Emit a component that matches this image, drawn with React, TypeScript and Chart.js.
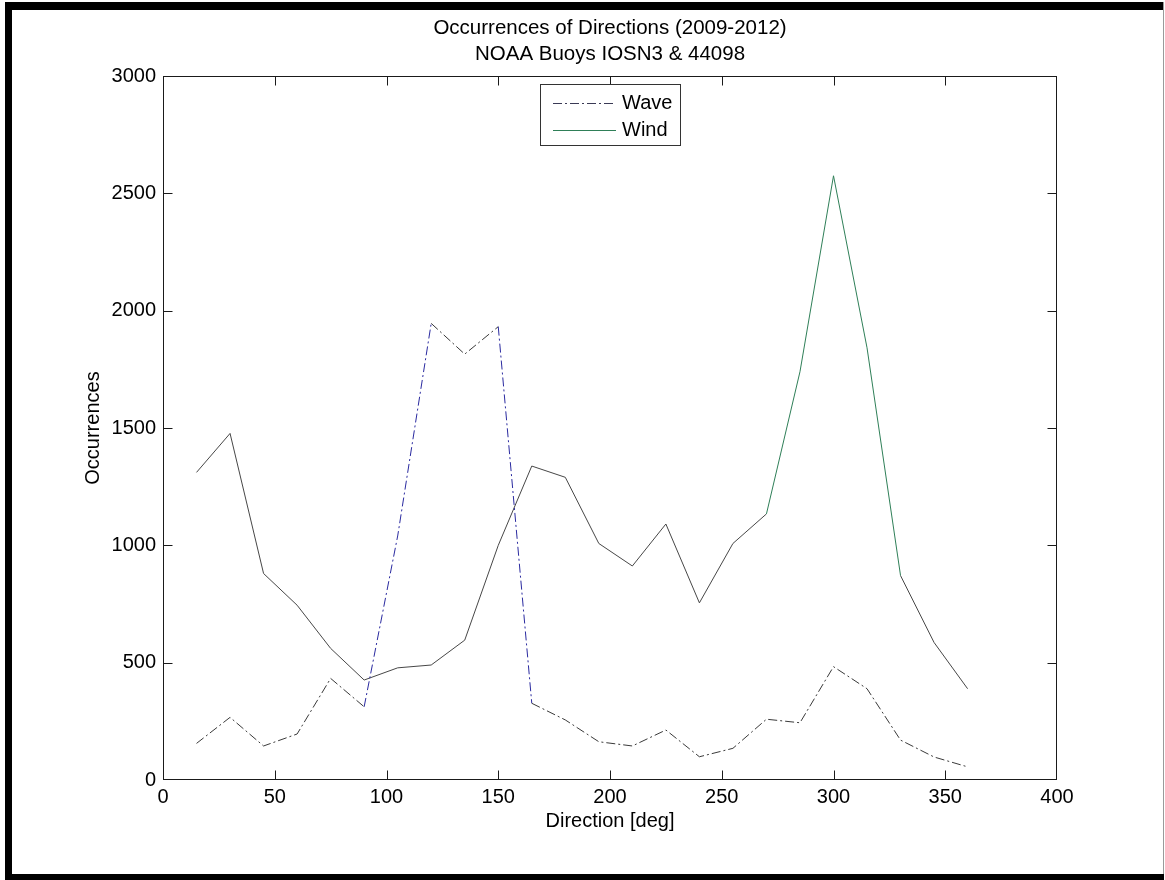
import React, { useEffect, useRef } from "react";
import { Chart, registerables } from "chart.js";

Chart.register(...registerables);

// ---- data ----
const directions = [15, 30, 45, 60, 75, 90, 105, 120, 135, 150, 165, 180, 195, 210, 225, 240, 255, 270, 285, 300, 315, 330, 345, 360];
const waveCounts = [156, 267, 145, 196, 433, 312, 1040, 1946, 1815, 1932, 327, 256, 163, 145, 213, 99, 135, 259, 244, 483, 389, 170, 98, 56];
const windCounts = [1311, 1477, 880, 745, 561, 426, 478, 490, 596, 1000, 1338, 1290, 1008, 912, 1091, 755, 1008, 1134, 1740, 2575, 1842, 871, 586, 389];
const xTickValues = [0, 50, 100, 150, 200, 250, 300, 350, 400];
const yTickValues = [0, 500, 1000, 1500, 2000, 2500, 3000];
const titleLines = ["Occurrences of Directions (2009-2012)", "NOAA Buoys IOSN3 & 44098"];
const seriesNames = ["Wave", "Wind"];
const xAxisLabel = "Direction [deg]";
const yAxisLabel = "Occurrences";

const FONT = "'Liberation Sans', Arial, Helvetica, sans-serif";
const WAVE_BASE = "#3a3a3a";
const WAVE_STEEP = "#2a2aa0";
const WIND_BASE = "#474747";
const WIND_STEEP = "#2f7f58";
const DASHDOT = [9, 3, 2, 3];

const steepColor = (base: string, steep: string) => (ctx: any) =>
  Math.abs(ctx.p1.parsed.y - ctx.p0.parsed.y) > 600 ? steep : base;

const decorPlugin = {
  id: "decor",
  beforeDraw(chart: any) {
    const { ctx, width, height } = chart;
    ctx.save();
    ctx.fillStyle = "#ffffff";
    ctx.fillRect(0, 0, width, height);
    ctx.fillStyle = "#000000";
    ctx.fillRect(5, 2, width - 6, 8);
    ctx.fillRect(5, 2, 7, height - 2);
    ctx.fillRect(5, 874, width - 6, 6);
    ctx.fillStyle = "#9a9a9a";
    ctx.fillRect(1163, 2, 1, 872);
    ctx.restore();
  },
  afterDatasetsDraw(chart: any) {
    const { ctx, chartArea: a, scales } = chart;
    const L = Math.round(a.left) + 0.5;
    const R = Math.round(a.right) - 0.5;
    const T = Math.round(a.top) + 0.5;
    const B = Math.round(a.bottom) - 0.5;
    ctx.save();
    ctx.strokeStyle = "#1a1a1a";
    ctx.lineWidth = 1;
    ctx.setLineDash([]);
    ctx.strokeRect(L, T, R - L, B - T);
    const tl = 9;
    ctx.beginPath();
    xTickValues.slice(1, -1).forEach((v) => {
      const px = Math.round(scales.x.getPixelForValue(v)) + 0.5;
      ctx.moveTo(px, B);
      ctx.lineTo(px, B - tl);
      ctx.moveTo(px, T);
      ctx.lineTo(px, T + tl);
    });
    yTickValues.slice(1, -1).forEach((v) => {
      const py = Math.round(scales.y.getPixelForValue(v)) + 0.5;
      ctx.moveTo(L, py);
      ctx.lineTo(L + tl, py);
      ctx.moveTo(R, py);
      ctx.lineTo(R - tl, py);
    });
    ctx.stroke();

    // legend
    const lx = 540.5, ly = 84.5, lw = 140, lh = 61;
    ctx.fillStyle = "#ffffff";
    ctx.fillRect(lx, ly, lw, lh);
    ctx.strokeStyle = "#333333";
    ctx.strokeRect(lx, ly, lw, lh);
    const rows = [
      { name: seriesNames[0], y: 103.5, color: "#3a3a55", dash: DASHDOT },
      { name: seriesNames[1], y: 130.5, color: WIND_STEEP, dash: [] as number[] },
    ];
    ctx.font = `20px ${FONT}`;
    ctx.textBaseline = "middle";
    ctx.textAlign = "left";
    rows.forEach((r) => {
      ctx.beginPath();
      ctx.strokeStyle = r.color;
      ctx.setLineDash(r.dash);
      ctx.moveTo(553, r.y);
      ctx.lineTo(616, r.y);
      ctx.stroke();
      ctx.setLineDash([]);
      ctx.fillStyle = "#000000";
      ctx.fillText(r.name, 622, r.y);
    });
    ctx.restore();
  },
};

export default function App() {
  const ref = useRef<HTMLCanvasElement | null>(null);

  useEffect(() => {
    if (!ref.current) return;
    const wavePoints = directions.map((d, i) => ({ x: d, y: waveCounts[i] }));
    const windPoints = directions.map((d, i) => ({ x: d, y: windCounts[i] }));
    const chart = new Chart(ref.current, {
      type: "line",
      data: {
        datasets: [
          {
            label: seriesNames[0],
            data: wavePoints,
            borderColor: WAVE_BASE,
            borderWidth: 1,
            borderDash: DASHDOT,
            pointRadius: 0,
            tension: 0,
            fill: false,
            segment: { borderColor: steepColor(WAVE_BASE, WAVE_STEEP) },
          },
          {
            label: seriesNames[1],
            data: windPoints,
            borderColor: WIND_BASE,
            borderWidth: 1,
            pointRadius: 0,
            tension: 0,
            fill: false,
            segment: { borderColor: steepColor(WIND_BASE, WIND_STEEP) },
          },
        ],
      },
      options: {
        animation: false,
        responsive: false,
        maintainAspectRatio: false,
        layout: { padding: { left: 0, right: 108, top: 0, bottom: 0 } },
        plugins: {
          legend: { display: false },
          tooltip: { enabled: false },
          title: {
            display: true,
            text: titleLines,
            fullSize: false,
            color: "#000",
            font: { family: FONT, size: 20.5, weight: "normal", lineHeight: 1.27 },
            padding: { top: 15, bottom: 9 },
          },
        },
        scales: {
          x: {
            type: "linear",
            min: 0,
            max: 400,
            grid: { display: false, drawTicks: false },
            border: { display: false },
            afterBuildTicks: (s: any) => {
              s.ticks = xTickValues.map((v) => ({ value: v }));
            },
            afterFit: (s: any) => {
              s.height = 100;
            },
            ticks: {
              color: "#000",
              padding: 5,
              maxRotation: 0,
              autoSkip: false,
              font: { family: FONT, size: 20 },
              callback: (v: any) => String(v),
            },
            title: {
              display: true,
              text: xAxisLabel,
              color: "#000",
              font: { family: FONT, size: 20, lineHeight: 1.2 },
              padding: { top: 0, bottom: 47 },
            },
          },
          y: {
            type: "linear",
            min: 0,
            max: 3000,
            grid: { display: false, drawTicks: false },
            border: { display: false },
            afterBuildTicks: (s: any) => {
              s.ticks = yTickValues.map((v) => ({ value: v }));
            },
            afterFit: (s: any) => {
              s.width = 163;
            },
            ticks: {
              color: "#000",
              padding: 7,
              autoSkip: false,
              font: { family: FONT, size: 20 },
              callback: (v: any) => String(v),
            },
            title: {
              display: true,
              text: yAxisLabel,
              color: "#000",
              font: { family: FONT, size: 20, lineHeight: 1.2 },
              padding: { top: 81, bottom: 0 },
            },
          },
        },
      },
      plugins: [decorPlugin],
    } as any);
    return () => chart.destroy();
  }, []);

  return (
    <div style={{ position: "absolute", left: 0, top: 0, width: 1165, height: 880, background: "#fff" }}>
      <canvas ref={ref} width={1165} height={880} style={{ display: "block", width: 1165, height: 880 }} />
    </div>
  );
}
